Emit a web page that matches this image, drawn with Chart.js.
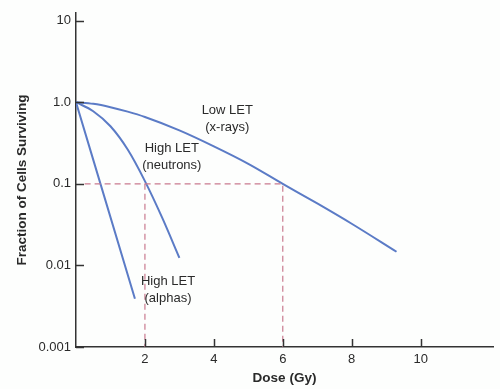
<!DOCTYPE html>
<html>
<head>
<meta charset="utf-8">
<script src="https://cdn.jsdelivr.net/npm/chart.js@4"></script>
<style>
  body { margin: 0; background: #fdfefd; }
  #wrap { width: 500px; height: 389px; }
</style>
</head>
<body>
<div id="wrap"><canvas id="survivalChart" width="500" height="389"></canvas></div>
<script>
// Survival curves (dose in Gy, surviving fraction)
const lowLetDose = [0, 0.5, 1, 1.5, 2, 3, 4, 5, 6, 7, 8, 9.3];
const lowLetSurv = [1, 0.955, 0.87, 0.767, 0.66, 0.452, 0.288, 0.176, 0.1, 0.0575, 0.0324, 0.0147];

const neutronDose = [0, 0.5, 1, 1.5, 2, 2.5, 3];
const neutronSurv = [1, 0.776, 0.507, 0.263, 0.108, 0.0385, 0.0124];

const alphaDose = [0, 1.71];
const alphaSurv = [1, 0.0039];

// dashed guides: 10% survival at 2 Gy (neutrons) and 6 Gy (x-rays)
const guideDose = [0.25, 6, 6];
const guideSurv = [0.1, 0.1, 0.001];
const guide2Dose = [2, 2];
const guide2Surv = [0.1, 0.001];

const xTicks = [2, 4, 6, 8, 10];
const yTicks = [0.001, 0.01, 0.1, 1, 10];
const yTickLabels = ['0.001', '0.01', '0.1', '1.0', '10'];

const FONT = "'Liberation Sans', Arial, Helvetica, sans-serif";
const BLUE = '#5b7bc6';
const PINK = '#c97a8f';
const TEXT = '#2a2a2a';

function toPoints(xs, ys) {
    return xs.map((x, i) => ({ x: x, y: ys[i] }));
}

// curve labels, in data coordinates
const curveLabels = [
    { x: 4.39, y: 0.8, lines: ['Low LET', '(x-rays)'] },
    { x: 2.78, y: 0.275, lines: ['High LET', '(neutrons)'] },
    { x: 2.67, y: 0.0064, lines: ['High LET', '(alphas)'] }
];

/**
 * Draws inward tick marks and the curve labels
 */
const decorPlugin = {
    id: 'decor',
    afterDatasetsDraw(chart) {
        const ctx = chart.ctx;
        const xs = chart.scales.x;
        const ys = chart.scales.y;
        const area = chart.chartArea;

        ctx.save();
        ctx.strokeStyle = '#333';
        ctx.lineWidth = 1.5;
        xTicks.forEach(v => {
            const px = Math.round(xs.getPixelForValue(v)) + 0.5;
            ctx.beginPath();
            ctx.moveTo(px, area.bottom);
            ctx.lineTo(px, area.bottom - 8);
            ctx.stroke();
        });
        yTicks.forEach(v => {
            const py = Math.round(ys.getPixelForValue(v)) + 0.5;
            ctx.beginPath();
            ctx.moveTo(area.left, py);
            ctx.lineTo(area.left + 8, py);
            ctx.stroke();
        });

        ctx.fillStyle = TEXT;
        ctx.font = '13px ' + FONT;
        ctx.textAlign = 'center';
        ctx.textBaseline = 'middle';
        curveLabels.forEach(lbl => {
            const px = xs.getPixelForValue(lbl.x);
            const py = ys.getPixelForValue(lbl.y);
            lbl.lines.forEach((line, i) => {
                ctx.fillText(line, px, py + i * 17);
            });
        });
        ctx.restore();
    }
};

const curveStyle = {
    borderColor: BLUE,
    borderWidth: 2,
    pointRadius: 0,
    fill: false,
    cubicInterpolationMode: 'monotone'
};

const guideStyle = {
    borderColor: PINK,
    borderWidth: 1.2,
    borderDash: [6, 4],
    pointRadius: 0,
    fill: false,
    tension: 0
};

new Chart(document.getElementById('survivalChart'), {
    type: 'line',
    data: {
        datasets: [
            Object.assign({ label: 'guide', data: toPoints(guideDose, guideSurv) }, guideStyle),
            Object.assign({ label: 'guide2', data: toPoints(guide2Dose, guide2Surv) }, guideStyle),
            Object.assign({ label: 'Low LET (x-rays)', data: toPoints(lowLetDose, lowLetSurv) }, curveStyle),
            Object.assign({ label: 'High LET (neutrons)', data: toPoints(neutronDose, neutronSurv) }, curveStyle),
            Object.assign({ label: 'High LET (alphas)', data: toPoints(alphaDose, alphaSurv) }, curveStyle)
        ]
    },
    options: {
        responsive: false,
        animation: false,
        layout: { padding: { top: 13, right: 7, left: 0, bottom: 0 } },
        plugins: {
            legend: { display: false },
            tooltip: { enabled: false }
        },
        scales: {
            x: {
                type: 'linear',
                min: 0,
                max: 12.1,
                afterBuildTicks: scale => {
                    scale.ticks = xTicks.map(v => ({ value: v }));
                },
                afterFit: scale => { scale.height = 42; },
                grid: { display: false, drawTicks: false },
                border: { display: true, color: '#333', width: 1.5 },
                ticks: {
                    padding: 5,
                    color: TEXT,
                    font: { family: FONT, size: 13 },
                    maxRotation: 0,
                    callback: v => String(v)
                },
                title: {
                    display: true,
                    text: 'Dose (Gy)',
                    color: TEXT,
                    font: { family: FONT, size: 13.5, weight: 'bold' },
                    padding: { top: 0, bottom: 3 }
                }
            },
            y: {
                type: 'logarithmic',
                min: 0.001,
                max: 12.4,
                afterBuildTicks: scale => {
                    scale.ticks = yTicks.map(v => ({ value: v }));
                },
                afterFit: scale => { scale.width = 76; },
                grid: { display: false, drawTicks: false },
                border: { display: true, color: '#333', width: 1.5 },
                ticks: {
                    padding: 5,
                    color: TEXT,
                    font: { family: FONT, size: 13 },
                    callback: v => {
                        const i = yTicks.findIndex(t => Math.abs(t - v) / t < 1e-6);
                        return i >= 0 ? yTickLabels[i] : '';
                    }
                },
                title: {
                    display: true,
                    text: 'Fraction of Cells Surviving',
                    color: TEXT,
                    font: { family: FONT, size: 13.5, weight: 'bold' },
                    padding: { top: 14, bottom: 0 }
                }
            }
        }
    },
    plugins: [decorPlugin]
});
</script>
</body>
</html>
